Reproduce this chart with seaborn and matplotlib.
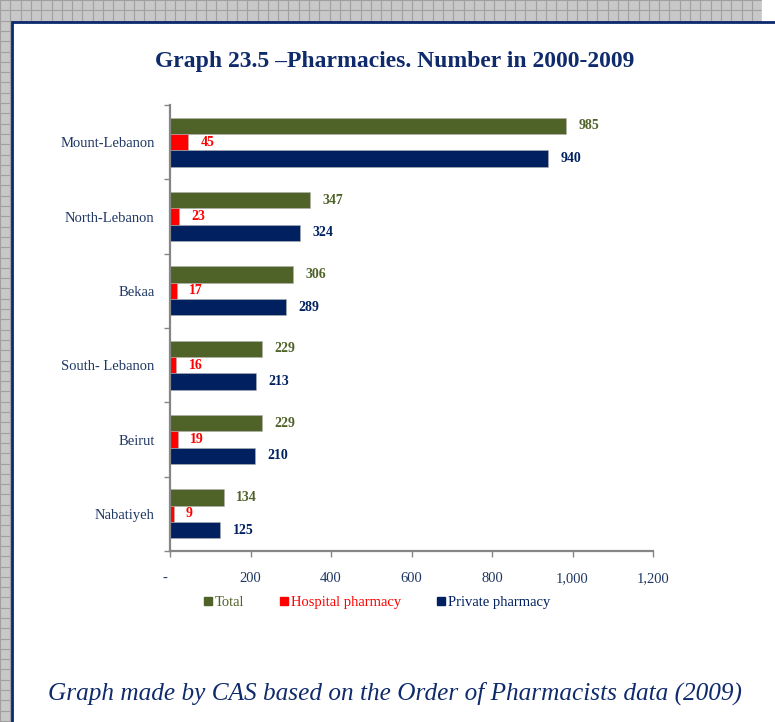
import pandas as pd
import matplotlib.pyplot as plt
import matplotlib.transforms as mtransforms
import seaborn as sns
from matplotlib.patches import Rectangle
from matplotlib.lines import Line2D
from matplotlib.ticker import FuncFormatter, FixedLocator

# =============================================================================
# Data
# =============================================================================
regions = ['Mount-Lebanon', 'North-Lebanon', 'Bekaa', 'South- Lebanon', 'Beirut', 'Nabatiyeh']
total = [985, 347, 306, 229, 229, 134]
hospital = [45, 23, 17, 16, 19, 9]
private = [940, 324, 289, 213, 210, 125]

series = ['Total', 'Hospital pharmacy', 'Private pharmacy']
colors = ['#4F6228', '#FF0000', '#002060']
x_ticks = [0, 200, 400, 600, 800, 1000, 1200]

df = pd.DataFrame({
    'region': regions * 3,
    'series': [series[0]] * 6 + [series[1]] * 6 + [series[2]] * 6,
    'value': total + hospital + private,
})

navy = '#1F3864'
sns.set_style('white')
plt.rcParams['font.family'] = ['Liberation Serif', 'DejaVu Serif']

fig = plt.figure(figsize=(7.75, 7.22), dpi=100)

# =============================================================================
# Background: grid paper with white framed panel
# =============================================================================
bg = fig.add_axes([0, 0, 1, 1], zorder=-10)
bg.set_xlim(0, 775)
bg.set_ylim(722, 0)
bg.axis('off')
bg.add_patch(Rectangle((0, 0), 775, 722, color='#C8C8C8', zorder=0))
step = 10.3
v = 0.0
while v < 775:
    bg.axvline(v, color='#A0A0A0', lw=0.8, zorder=1)
    bg.axhline(v, color='#A0A0A0', lw=0.8, zorder=1)
    v += step
bg.add_patch(Rectangle((762, 0), 20, 22, color='white', zorder=2))
bg.add_patch(Rectangle((12, 22), 780, 720, facecolor='white',
                       edgecolor='#0B2A6E', lw=2.0, zorder=3))

# =============================================================================
# Bar chart
# =============================================================================
ax = fig.add_axes([170 / 775, 1 - 551 / 722, 483 / 775, 446 / 722])
sns.barplot(data=df, x='value', y='region', hue='series', orient='h',
            hue_order=series, palette=colors, saturation=1, width=0.66, dodge=True,
            edgecolor='#B0B0B0', linewidth=0.4, legend=False, ax=ax)

for cont, c in zip(ax.containers, colors):
    ax.bar_label(cont, padding=9, color=c, fontweight='bold', fontsize=10)

ax.set_xlim(0, 1200)
ax.set_ylim(5.5, -0.5)
ax.set_xticks(x_ticks)
ax.xaxis.set_major_formatter(FuncFormatter(lambda v, p: '-' if v == 0 else f'{int(v):,}'))
ax.tick_params(axis='x', direction='out', length=4, width=1, color='#868686',
               labelsize=10.5, labelcolor=navy, pad=11, bottom=True)
ax.yaxis.set_minor_locator(FixedLocator([i - 0.5 for i in range(7)]))
ax.tick_params(axis='y', which='major', length=0, labelsize=10.5, labelcolor=navy, pad=11)
ax.tick_params(axis='y', which='minor', direction='out', length=4, width=1,
               color='#868686', left=True)
ax.set_xlabel('')
ax.set_ylabel('')
for s in ['top', 'right']:
    ax.spines[s].set_visible(False)
for s in ['left', 'bottom']:
    ax.spines[s].set_color('#868686')
    ax.spines[s].set_linewidth(1.6)

# the "-" zero label sits a little left of the axis
zero_lab = ax.xaxis.get_major_ticks()[0].label1
zero_lab.set_transform(zero_lab.get_transform() +
                       mtransforms.ScaledTranslation(-5 / 100, 0, fig.dpi_scale_trans))

# Legend
handles = [Line2D([], [], marker='s', ls='', color=c, markersize=6) for c in colors]
leg = fig.legend(handles, series, loc='center', bbox_to_anchor=(377 / 775, 1 - 602 / 722),
                 ncol=3, frameon=False, fontsize=10.5, handlelength=0.6,
                 handletextpad=0.2, columnspacing=2.4)
for t, c in zip(leg.get_texts(), colors):
    t.set_color(c)

# Titles
fig.text(395 / 775, 1 - 62 / 722, 'Graph 23.5 \u2013Pharmacies. Number in 2000-2009',
         ha='center', va='center', fontsize=17, fontweight='bold', color='#0F2B6B')
fig.text(395 / 775, 1 - 693 / 722,
         'Graph made by CAS based on the Order of Pharmacists data (2009)',
         ha='center', va='center', fontsize=18.2, style='italic', color='#0F2B6B')

fig.savefig('out.png', dpi=100)
